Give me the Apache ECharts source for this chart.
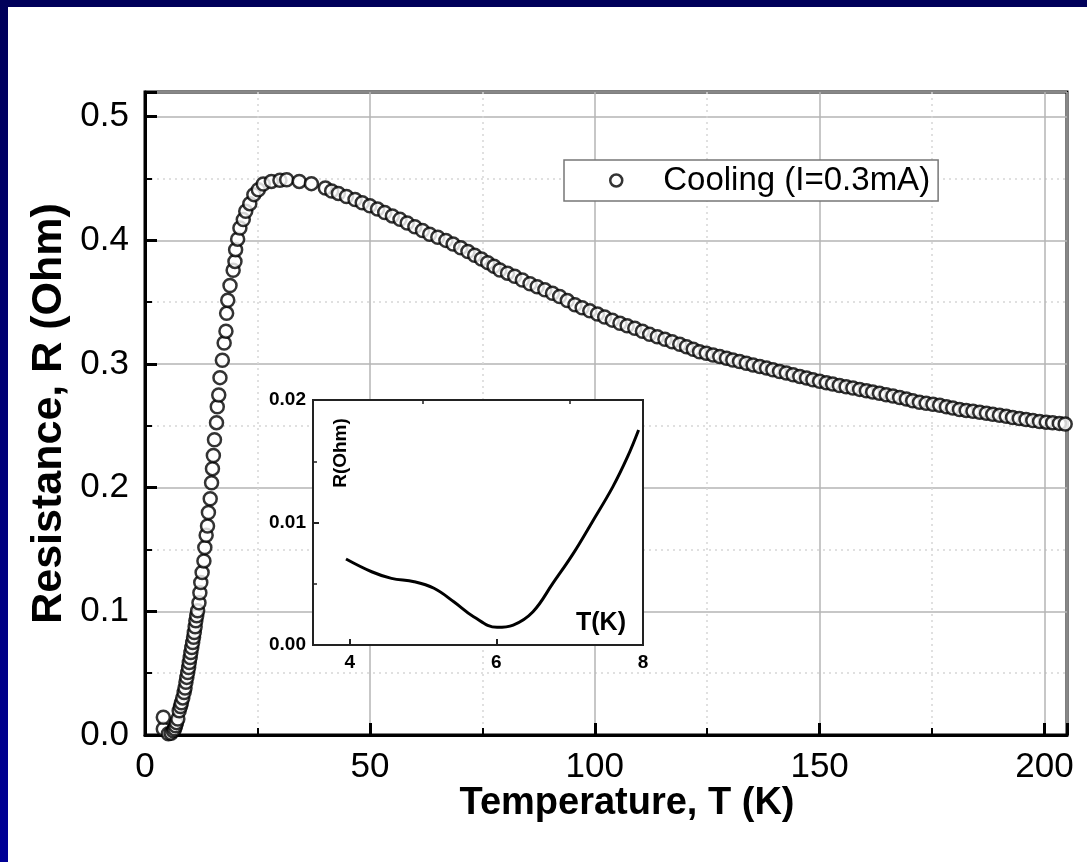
<!DOCTYPE html>
<html>
<head>
<meta charset="utf-8">
<script src="https://cdn.jsdelivr.net/npm/echarts@6/dist/echarts.min.js"></script>
<style>
html, body { margin: 0; padding: 0; background: #fff; }
#main { width: 1087px; height: 862px; }
</style>
</head>
<body>
<div id="main"></div>
<script>
// main curve, cooling run
var tempK = [4.07, 4.07, 5.2, 5.8, 6.3, 6.6, 6.8, 7.0, 7.3, 7.6, 7.9, 8.1, 8.4, 8.7, 8.9, 9.1, 9.3, 9.5, 9.7, 9.85,
  10.05, 10.2, 10.4, 10.6, 10.8, 10.96, 11.15, 11.3, 11.5, 11.7, 12.0, 12.2, 12.4, 12.7, 13.1, 13.3, 13.6, 13.9, 14.1, 14.5,
  14.8, 15.0, 15.2, 15.45, 15.9, 16.07, 16.4, 16.67, 17.2, 17.6, 18.0, 18.15, 18.4, 18.9, 19.6, 20.0, 20.15, 20.6, 21.1, 21.85,
  22.4, 23.3, 24.2, 25.2, 26.3, 28.1, 30, 31.5, 34.3, 37.0, 40.1, 41.5, 43, 44.8, 46.7, 48.3, 50, 51.7, 53.3, 55,
  56.7, 58.3, 60, 61.7, 63.3, 65.1, 66.9, 68.5, 70.2, 71.8, 73.3, 74.8, 76.2, 77.6, 78.9, 80.6, 82.2, 83.9, 85.6, 87.2,
  88.9, 90.6, 92.2, 93.9, 95.6, 97.2, 98.9, 100.6, 102.2, 103.9, 105.6, 107.2, 108.9, 110.6, 112.2, 113.9, 115.6, 117.2, 118.9, 120.4,
  121.9, 123.3, 124.8, 126.3, 127.8, 129.3, 130.7, 132.2, 133.7, 135.2, 136.7, 138.2, 139.6, 141.1, 142.6, 144.1, 145.6, 147.1, 148.5, 150,
  151.5, 152.9, 154.4, 155.9, 157.4, 158.9, 160.4, 161.8, 163.3, 164.8, 166.3, 167.8, 169.3, 170.7, 172.2, 173.7, 175.2, 176.7, 178.2, 179.6,
  181.1, 182.6, 184.1, 185.6, 187.1, 188.5, 190, 191.5, 192.9, 194.4, 195.9, 197.4, 198.9, 200.4, 201.8, 203.3, 204.6];
var resOhm = [0.0048, 0.0143, 0.001, 0.0015, 0.0035, 0.005, 0.0075, 0.010, 0.013, 0.0196, 0.023, 0.026, 0.030, 0.0344, 0.038, 0.0426, 0.0466, 0.0506, 0.0546, 0.0587,
  0.0627, 0.0667, 0.0707, 0.0748, 0.079, 0.0829, 0.0876, 0.0923, 0.0964, 0.1004, 0.107, 0.115, 0.1233, 0.1314, 0.1408, 0.1516, 0.1616, 0.169, 0.180, 0.191,
  0.204, 0.2154, 0.226, 0.2388, 0.2526, 0.2655, 0.275, 0.289, 0.303, 0.317, 0.3266, 0.341, 0.3516, 0.3635, 0.3758, 0.383, 0.3925, 0.401, 0.410, 0.4168,
  0.4235, 0.4297, 0.437, 0.441, 0.4456, 0.4477, 0.4486, 0.449, 0.4477, 0.4459, 0.4423, 0.440, 0.438, 0.4355, 0.433, 0.4305, 0.428, 0.4253, 0.4225, 0.4198,
  0.417, 0.414, 0.411, 0.408, 0.405, 0.4025, 0.400, 0.397, 0.394, 0.391, 0.388, 0.385, 0.382, 0.379, 0.376, 0.3735, 0.371, 0.368, 0.365, 0.3625,
  0.360, 0.3573, 0.3546, 0.3513, 0.348, 0.3455, 0.343, 0.3405, 0.338, 0.3355, 0.333, 0.331, 0.329, 0.3265, 0.324, 0.322, 0.320, 0.318, 0.316, 0.314,
  0.312, 0.310, 0.3087, 0.3073, 0.306, 0.3047, 0.3033, 0.302, 0.3007, 0.2993, 0.298, 0.2967, 0.2953, 0.294, 0.2927, 0.2913, 0.290, 0.2887, 0.2873, 0.286,
  0.2849, 0.2838, 0.2827, 0.2816, 0.2806, 0.2795, 0.2784, 0.2774, 0.2763, 0.2752, 0.2741, 0.273, 0.2717, 0.2703, 0.269, 0.2682, 0.2674, 0.2666, 0.2655, 0.2644,
  0.2633, 0.2625, 0.2618, 0.261, 0.2602, 0.2593, 0.2585, 0.2577, 0.2568, 0.256, 0.2552, 0.2544, 0.2536, 0.253, 0.2525, 0.252, 0.2515];

// inset: low temperature detail
var insetT = [3.95, 4.30, 4.57, 4.88, 5.15, 5.42, 5.69, 6.01, 6.23, 6.50, 6.77, 7.05, 7.31, 7.59, 7.79, 7.94];
var insetR = [0.00702, 0.00598, 0.00544, 0.00517, 0.00463, 0.00353, 0.00231, 0.00144, 0.00163, 0.00272, 0.00503, 0.00748, 0.01007, 0.01293, 0.01537, 0.01755];

var insetXLabels = [4, 6, 8];
var insetXMinor = [5, 7];

var font = "'Liberation Sans', Arial, sans-serif";
var myChart = echarts.init(document.getElementById("main"));

var option = {
    backgroundColor: "#fff",
    animation: false,
    textStyle: { fontFamily: font, color: "#000" },
    graphic: [
        {
            type: "rect", left: 0, top: 0, z: 100,
            shape: { width: 1087, height: 7 },
            style: { fill: "#00005a" }
        },
        {
            type: "rect", left: 0, top: 0, z: 100,
            shape: { width: 8, height: 862 },
            style: {
                fill: new echarts.graphic.LinearGradient(0, 0, 0, 1, [
                    { offset: 0, color: "#00005a" },
                    { offset: 1, color: "#000096" }
                ])
            }
        },
        {
            type: "text", x: 341, y: 453, rotation: Math.PI / 2, z: 50,
            style: {
                text: "R(Ohm)", font: "bold 19px " + font, fill: "#000",
                textAlign: "center", textVerticalAlign: "middle"
            }
        },
        {
            type: "text", x: 601, y: 623, z: 50,
            style: {
                text: "T(K)", font: "bold 25px " + font, fill: "#000",
                textAlign: "center", textVerticalAlign: "middle"
            }
        }
    ],
    legend: {
        left: 564,
        top: 160,
        orient: "horizontal",
        padding: [4, 8, 4, 45],
        itemWidth: 84,
        itemHeight: 12,
        backgroundColor: "#fff",
        borderColor: "#777",
        borderWidth: 1.5,
        textStyle: { fontSize: 33, fontFamily: font, color: "#000" },
        data: [{
            name: "Cooling (I=0.3mA)",
            icon: "circle",
            itemStyle: { color: "#fff", borderColor: "#000", borderWidth: 2.5 }
        }]
    },
    grid: [
        {
            left: 145, top: 92, width: 922, height: 643,
            show: true, borderColor: "#000", borderWidth: 3,
            backgroundColor: "transparent"
        },
        {
            left: 313, top: 400, width: 330, height: 245,
            show: true, borderColor: "#222", borderWidth: 2,
            backgroundColor: "#fff", z: 3
        }
    ],
    xAxis: [
        {
            type: "value", gridIndex: 0,
            min: 0, max: 205, interval: 50,
            axisLine: { show: true, lineStyle: { color: "#000", width: 3 } },
            axisTick: { inside: true, length: 12, lineStyle: { color: "#000", width: 3 } },
            minorTick: { show: true, splitNumber: 2, length: 7, lineStyle: { color: "#000", width: 2 } },
            splitLine: { show: true, lineStyle: { color: "#b4b4b4", width: 1.5 } },
            minorSplitLine: { show: true, lineStyle: { color: "#d6d6d6", width: 1.5, type: [2, 4] } },
            axisLabel: {
                fontSize: 35, color: "#000", margin: 15, showMaxLabel: false,
                formatter: function (v) { return v % 50 === 0 ? String(v) : ""; }
            },
            name: "Temperature, T (K)",
            nameLocation: "middle",
            nameMoveOverlap: false,
            nameGap: 50,
            nameTextStyle: { fontSize: 38, fontWeight: "bold", color: "#000", padding: [0, 0, 0, 42] }
        },
        {
            type: "value", gridIndex: 1, z: 4,
            min: 3.5, max: 8,
            axisLine: { show: true, lineStyle: { color: "#222", width: 2 } },
            axisTick: { inside: true, length: 6, customValues: insetXLabels, lineStyle: { color: "#222", width: 2 } },
            splitLine: { show: false },
            axisLabel: {
                customValues: insetXLabels, fontSize: 19, fontWeight: "bold", color: "#000", margin: 8
            }
        },
        {
            type: "value", gridIndex: 1, z: 4,
            min: 3.5, max: 8,
            axisLine: { show: false },
            axisTick: { inside: true, length: 4, customValues: insetXMinor, lineStyle: { color: "#222", width: 1.5 } },
            splitLine: { show: false },
            axisLabel: { show: false }
        }
    ],
    yAxis: [
        {
            type: "value", gridIndex: 0,
            min: 0, max: 0.52, interval: 0.1,
            axisLine: { show: true, lineStyle: { color: "#000", width: 3 } },
            axisTick: { inside: true, length: 12, lineStyle: { color: "#000", width: 3 } },
            minorTick: { show: true, splitNumber: 2, length: 7, lineStyle: { color: "#000", width: 2 } },
            splitLine: { show: true, lineStyle: { color: "#b4b4b4", width: 1.5 } },
            minorSplitLine: { show: true, lineStyle: { color: "#d6d6d6", width: 1.5, type: [2, 4] } },
            axisLabel: {
                fontSize: 35, color: "#000", margin: 16, showMaxLabel: false,
                formatter: function (v) { return v.toFixed(1); }
            },
            name: "Resistance, R (Ohm)",
            nameLocation: "middle",
            nameMoveOverlap: false,
            nameGap: 74,
            nameTextStyle: { fontSize: 43, fontWeight: "bold", color: "#000" }
        },
        {
            type: "value", gridIndex: 1, z: 4,
            min: 0, max: 0.02, interval: 0.01,
            axisLine: { show: true, lineStyle: { color: "#222", width: 2 } },
            axisTick: { inside: true, length: 6, lineStyle: { color: "#222", width: 2 } },
            minorTick: { show: true, splitNumber: 2, length: 4, lineStyle: { color: "#222", width: 1.5 } },
            splitLine: { show: false },
            axisLabel: {
                fontSize: 19, fontWeight: "bold", color: "#000", margin: 7,
                formatter: function (v) { return v.toFixed(2); }
            }
        }
    ],
    series: [
        {
            name: "Cooling (I=0.3mA)",
            type: "scatter",
            xAxisIndex: 0, yAxisIndex: 0,
            symbol: "circle",
            symbolSize: 13,
            itemStyle: { color: "#fff", borderColor: "#000", borderWidth: 2.5 },
            data: tempK.map(function (t, i) { return [t, resOhm[i]]; })
        },
        {
            name: "inset",
            type: "line",
            xAxisIndex: 1, yAxisIndex: 1,
            z: 5,
            smooth: 0.4,
            showSymbol: false,
            lineStyle: { color: "#000", width: 3 },
            data: insetT.map(function (t, i) { return [t, insetR[i]]; })
        }
    ]
};
myChart.setOption(option);
</script>
</body>
</html>
